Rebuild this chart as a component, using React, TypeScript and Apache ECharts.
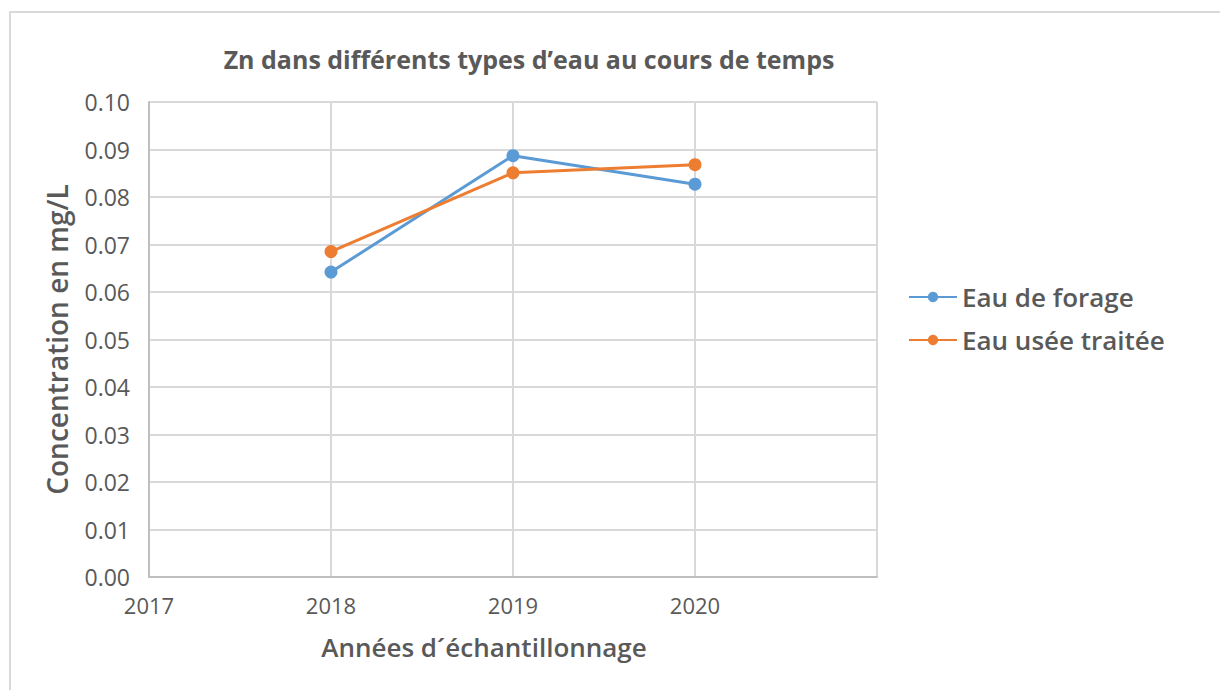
import React, { useEffect, useRef } from "react";
import * as echarts from "echarts";

const years = [2018, 2019, 2020];
const eauForage = [0.0642, 0.0887, 0.0827];
const eauUseeTraitee = [0.0685, 0.0851, 0.0868];
const seriesNames = ["Eau de forage", "Eau usée traitée"];
const titleText = "Zn dans différents types d’eau au cours de temps";
const xTitle = "Années d´échantillonnage";
const yTitle = "Concentration en mg/L";

const GRAY = "#595959";
const FONT = "'Open Sans', sans-serif";

export default function App() {
  const ref = useRef<HTMLDivElement>(null);
  useEffect(() => {
    document.body.style.margin = "0";
    const chart = echarts.init(ref.current!, null, { renderer: "svg" });
    chart.setOption({
      animation: false,
      backgroundColor: "#ffffff",
      title: {
        text: titleText,
        left: 524,
        top: 41,
        textAlign: "center",
        textStyle: { fontFamily: FONT, fontSize: 25, fontWeight: "bold", color: GRAY },
      },
      legend: {
        orient: "vertical",
        left: 903,
        top: 279,
        itemWidth: 48,
        itemHeight: 13,
        itemGap: 17,
        textStyle: { fontFamily: FONT, fontSize: 26, fontWeight: 600, color: GRAY },
        data: seriesNames,
      },
      grid: { left: 149, top: 102, width: 728, height: 475, containLabel: false },
      xAxis: {
        type: "value",
        min: 2017,
        max: 2021,
        interval: 1,
        name: xTitle,
        nameLocation: "middle",
        nameGap: 57,
        nameTextStyle: {
          fontFamily: FONT,
          fontSize: 26,
          fontWeight: 600,
          color: GRAY,
          padding: [0, 58, 0, 0],
        },
        axisLine: { show: true, lineStyle: { color: "#bfbfbf", width: 2 } },
        axisTick: { show: false },
        axisLabel: {
          margin: 17,
          fontFamily: FONT,
          fontSize: 22,
          color: GRAY,
          formatter: (v: number) => (v === 2021 ? "" : String(v)),
        },
        splitLine: { show: true, lineStyle: { color: "#d9d9d9", width: 2 } },
      },
      yAxis: {
        type: "value",
        min: 0,
        max: 0.1,
        interval: 0.01,
        name: yTitle,
        nameLocation: "middle",
        nameGap: 78,
        nameTextStyle: { fontFamily: FONT, fontSize: 28, fontWeight: 600, color: GRAY },
        axisLine: { show: true, lineStyle: { color: "#bfbfbf", width: 2 } },
        axisTick: { show: false },
        axisLabel: {
          margin: 19,
          fontFamily: FONT,
          fontSize: 23,
          color: GRAY,
          formatter: (v: number) => v.toFixed(2),
        },
        splitLine: { show: true, lineStyle: { color: "#d9d9d9", width: 2 } },
      },
      graphic: [
        {
          type: "rect",
          shape: { x: 10, y: 12, width: 1240, height: 700 },
          style: { fill: "none", stroke: "#d9d9d9", lineWidth: 2 },
          silent: true,
        },
      ],
      series: [
        {
          name: seriesNames[0],
          type: "line",
          data: years.map((y, i) => [y, eauForage[i]]),
          symbol: "circle",
          symbolSize: 13,
          lineStyle: { width: 3, color: "#5B9BD5" },
          itemStyle: { color: "#5B9BD5" },
        },
        {
          name: seriesNames[1],
          type: "line",
          data: years.map((y, i) => [y, eauUseeTraitee[i]]),
          symbol: "circle",
          symbolSize: 13,
          lineStyle: { width: 3, color: "#ED7D31" },
          itemStyle: { color: "#ED7D31" },
        },
      ],
    });
    return () => chart.dispose();
  }, []);
  return <div ref={ref} style={{ width: 1220, height: 690, position: "fixed", left: 0, top: 0 }} />;
}
